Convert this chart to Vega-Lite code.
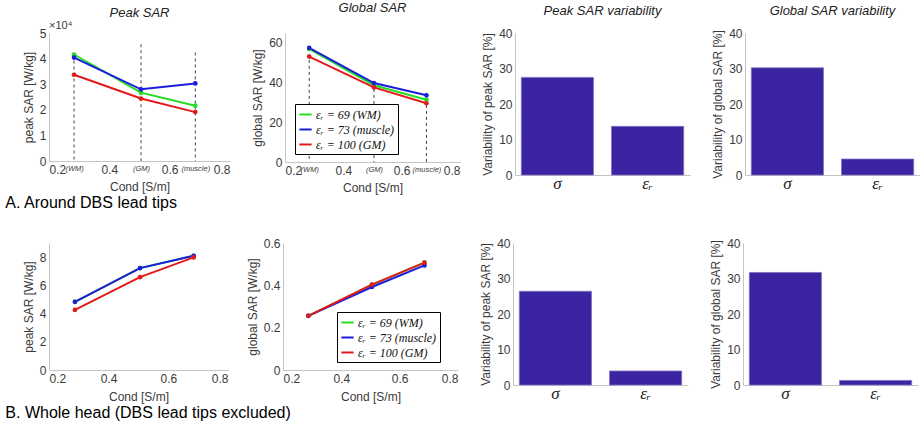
{
  "$schema": "https://vega.github.io/schema/vega-lite/v6.json",
  "background": "white",
  "padding": {"left": 5, "top": 2, "right": 0, "bottom": 0},
  "config": {
    "font": "Liberation Sans",
    "view": {"stroke": null},
    "axis": {"domainColor": "#c4c4c4", "ticks": false, "grid": false, "labelColor": "#3a3a3a", "titleColor": "#3a3a3a", "labelFontSize": 12, "titleFontSize": 12, "titleFontWeight": "normal", "labelPadding": 3, "titlePadding": 4},
    "title": {"fontStyle": "italic", "fontWeight": "normal", "fontSize": 13, "color": "#222222", "offset": 12},
    "legend": {"title": null}
  },
  "resolve": {"scale": {"color": "independent"}, "legend": {"color": "independent"}},
  "spacing": 26,
  "vconcat": [
    {
      "title": {"text": "A. Around DBS lead tips", "orient": "bottom", "anchor": "start", "fontSize": 16, "fontStyle": "normal", "color": "#000000", "offset": 2, "dx": -17},
      "bounds": "flush",
      "spacing": 55,
      "resolve": {"scale": {"color": "independent"}, "legend": {"color": "independent"}},
      "hconcat": [
        {
          "width": 181, "height": 128,
          "title": {"text": "Peak SAR", "offset": 0},
          "encoding": {
            "x": {"field": "cond", "type": "quantitative", "title": "Cond [S/m]",
              "scale": {"domain": [0.2, 0.8], "nice": false, "zero": false},
              "axis": {"values": [0.2, 0.283, 0.4, 0.505, 0.6, 0.685, 0.8], "labelOverlap": false, "titlePadding": 6,
                "labelExpr": "datum.value == 0.283 ? '(WM)' : datum.value == 0.505 ? '(GM)' : datum.value == 0.685 ? '(muscle)' : format(datum.value, '.1f')",
                "labelFontSize": {"condition": {"test": "datum.value == 0.283 || datum.value == 0.505 || datum.value == 0.685", "value": 7.5}, "value": 12},
                "labelFontStyle": {"condition": {"test": "datum.value == 0.283 || datum.value == 0.505 || datum.value == 0.685", "value": "italic"}, "value": "normal"}}},
            "y": {"field": "sar", "type": "quantitative", "title": "peak SAR [W/kg]",
              "scale": {"domain": [0, 50000], "nice": false},
              "axis": {"values": [0, 10000, 20000, 30000, 40000, 50000], "labelExpr": "datum.value / 10000"}}
          },
          "layer": [
            {
              "data": {"values": [
                {"cond": 0.283, "sar": 41600},
                {"cond": 0.505, "sar": 45600},
                {"cond": 0.685, "sar": 42400}
              ]},
              "mark": {"type": "rule", "strokeDash": [3, 3], "color": "#444444", "strokeWidth": 1},
              "encoding": {"y2": {"datum": 0}}
            },
            {
              "data": {"values": [
                {"cond": 0.283, "eps": "εᵣ = 69 (WM)", "sar": 41600},
                {"cond": 0.505, "eps": "εᵣ = 69 (WM)", "sar": 26700},
                {"cond": 0.685, "eps": "εᵣ = 69 (WM)", "sar": 21600},
                {"cond": 0.283, "eps": "εᵣ = 73 (muscle)", "sar": 40400},
                {"cond": 0.505, "eps": "εᵣ = 73 (muscle)", "sar": 28000},
                {"cond": 0.685, "eps": "εᵣ = 73 (muscle)", "sar": 30300},
                {"cond": 0.283, "eps": "εᵣ = 100 (GM)", "sar": 33700},
                {"cond": 0.505, "eps": "εᵣ = 100 (GM)", "sar": 24400},
                {"cond": 0.685, "eps": "εᵣ = 100 (GM)", "sar": 19100}
              ]},
              "mark": {"type": "line", "strokeWidth": 2, "point": {"filled": true, "size": 22}},
              "encoding": {
                "color": {"field": "eps", "type": "nominal", "sort": null,
                  "scale": {"domain": ["εᵣ = 69 (WM)", "εᵣ = 73 (muscle)", "εᵣ = 100 (GM)"], "range": ["#22dd22", "#1c1cdc", "#e41a1a"]},
                  "legend": null}
              }
            },
            {
              "data": {"values": [{"cond": 0.2, "sar": 50000, "label": "×10⁴"}]},
              "mark": {"type": "text", "align": "left", "baseline": "bottom", "dy": -2, "fontSize": 11, "color": "#3a3a3a"},
              "encoding": {"text": {"field": "label"}}
            }
          ]
        },
        {
          "width": 175, "height": 129,
          "title": {"text": "Global SAR", "offset": 18},
          "encoding": {
            "x": {"field": "cond", "type": "quantitative", "title": "Cond [S/m]",
              "scale": {"domain": [0.2, 0.8], "nice": false, "zero": false},
              "axis": {"values": [0.2, 0.283, 0.4, 0.505, 0.6, 0.685, 0.8], "labelOverlap": false, "titlePadding": 6,
                "labelExpr": "datum.value == 0.283 ? '(WM)' : datum.value == 0.505 ? '(GM)' : datum.value == 0.685 ? '(muscle)' : format(datum.value, '.1f')",
                "labelFontSize": {"condition": {"test": "datum.value == 0.283 || datum.value == 0.505 || datum.value == 0.685", "value": 7.5}, "value": 12},
                "labelFontStyle": {"condition": {"test": "datum.value == 0.283 || datum.value == 0.505 || datum.value == 0.685", "value": "italic"}, "value": "normal"}}},
            "y": {"field": "sar", "type": "quantitative", "title": "global SAR [W/kg]",
              "scale": {"domain": [0, 65], "nice": false},
              "axis": {"values": [0, 20, 40, 60]}}
          },
          "layer": [
            {
              "data": {"values": [
                {"cond": 0.283, "sar": 57.5},
                {"cond": 0.505, "sar": 39.8},
                {"cond": 0.685, "sar": 34.8}
              ]},
              "mark": {"type": "rule", "strokeDash": [3, 3], "color": "#444444", "strokeWidth": 1},
              "encoding": {"y2": {"datum": 0}}
            },
            {
              "data": {"values": [
                {"cond": 0.283, "eps": "εᵣ = 69 (WM)", "sar": 57.0},
                {"cond": 0.505, "eps": "εᵣ = 69 (WM)", "sar": 38.7},
                {"cond": 0.685, "eps": "εᵣ = 69 (WM)", "sar": 31.4},
                {"cond": 0.283, "eps": "εᵣ = 73 (muscle)", "sar": 57.5},
                {"cond": 0.505, "eps": "εᵣ = 73 (muscle)", "sar": 39.8},
                {"cond": 0.685, "eps": "εᵣ = 73 (muscle)", "sar": 33.6},
                {"cond": 0.283, "eps": "εᵣ = 100 (GM)", "sar": 53.1},
                {"cond": 0.505, "eps": "εᵣ = 100 (GM)", "sar": 37.6},
                {"cond": 0.685, "eps": "εᵣ = 100 (GM)", "sar": 29.6}
              ]},
              "mark": {"type": "line", "strokeWidth": 2, "point": {"filled": true, "size": 22}},
              "encoding": {
                "color": {"field": "eps", "type": "nominal", "sort": null,
                  "scale": {"domain": ["εᵣ = 69 (WM)", "εᵣ = 73 (muscle)", "εᵣ = 100 (GM)"], "range": ["#22dd22", "#1c1cdc", "#e41a1a"]},
                  "legend": {"orient": "none", "legendX": 10, "legendY": 71, "strokeColor": "#000000", "fillColor": "#ffffff", "padding": 3, "symbolType": "stroke", "symbolStrokeWidth": 2, "symbolSize": 150, "labelFont": "Liberation Serif", "labelFontStyle": "italic", "labelFontSize": 12, "labelColor": "#111111", "rowPadding": 1, "labelOffset": 3}}
              }
            }
          ]
        },
        {
          "width": 175, "height": 142,
          "title": {"text": "Peak SAR variability", "offset": 9},
          "data": {"values": [{"param": "σ", "variability": 27.5}, {"param": "εᵣ", "variability": 13.7}]},
          "mark": {"type": "bar", "color": "#3b23a2", "stroke": "#7d72c4", "strokeWidth": 0.8},
          "encoding": {
            "x": {"field": "param", "type": "nominal", "sort": null, "scale": {"paddingInner": 0.2, "paddingOuter": 0.07},
              "axis": {"title": null, "labelAngle": 0, "labelPadding": 0, "labelFont": "Liberation Serif", "labelFontStyle": "italic", "labelFontSize": 17, "labelColor": "#222222"}},
            "y": {"field": "variability", "type": "quantitative", "title": "Variability of peak SAR [%]",
              "scale": {"domain": [0, 40], "nice": false}, "axis": {"values": [0, 10, 20, 30, 40]}}
          }
        },
        {
          "width": 175, "height": 142,
          "title": {"text": "Global SAR variability", "offset": 9},
          "data": {"values": [{"param": "σ", "variability": 30.2}, {"param": "εᵣ", "variability": 4.5}]},
          "mark": {"type": "bar", "color": "#3b23a2", "stroke": "#7d72c4", "strokeWidth": 0.8},
          "encoding": {
            "x": {"field": "param", "type": "nominal", "sort": null, "scale": {"paddingInner": 0.2, "paddingOuter": 0.07},
              "axis": {"title": null, "labelAngle": 0, "labelPadding": 0, "labelFont": "Liberation Serif", "labelFontStyle": "italic", "labelFontSize": 17, "labelColor": "#222222"}},
            "y": {"field": "variability", "type": "quantitative", "title": "Variability of global SAR [%]",
              "scale": {"domain": [0, 40], "nice": false}, "axis": {"values": [0, 10, 20, 30, 40]}}
          }
        }
      ]
    },
    {
      "title": {"text": "B. Whole head (DBS lead tips excluded)", "orient": "bottom", "anchor": "start", "fontSize": 16, "fontStyle": "normal", "color": "#000000", "offset": 3, "dx": -17},
      "bounds": "flush",
      "spacing": 55,
      "resolve": {"scale": {"color": "independent"}, "legend": {"color": "independent"}},
      "hconcat": [
        {
          "width": 179, "height": 127,
          "data": {"values": [
            {"cond": 0.287, "eps": "εᵣ = 69 (WM)", "sar": 4.83},
            {"cond": 0.505, "eps": "εᵣ = 69 (WM)", "sar": 7.22},
            {"cond": 0.685, "eps": "εᵣ = 69 (WM)", "sar": 8.09},
            {"cond": 0.287, "eps": "εᵣ = 73 (muscle)", "sar": 4.83},
            {"cond": 0.505, "eps": "εᵣ = 73 (muscle)", "sar": 7.22},
            {"cond": 0.685, "eps": "εᵣ = 73 (muscle)", "sar": 8.09},
            {"cond": 0.287, "eps": "εᵣ = 100 (GM)", "sar": 4.26},
            {"cond": 0.505, "eps": "εᵣ = 100 (GM)", "sar": 6.58},
            {"cond": 0.685, "eps": "εᵣ = 100 (GM)", "sar": 7.98}
          ]},
          "mark": {"type": "line", "strokeWidth": 2, "point": {"filled": true, "size": 22}},
          "encoding": {
            "x": {"field": "cond", "type": "quantitative", "title": "Cond [S/m]",
              "scale": {"domain": [0.2, 0.8], "nice": false, "zero": false},
              "axis": {"values": [0.2, 0.4, 0.6, 0.8], "format": ".1f", "titlePadding": 7}},
            "y": {"field": "sar", "type": "quantitative", "title": "peak SAR [W/kg]",
              "scale": {"domain": [0, 9], "nice": false},
              "axis": {"values": [0, 2, 4, 6, 8]}},
            "color": {"field": "eps", "type": "nominal", "sort": null,
              "scale": {"domain": ["εᵣ = 69 (WM)", "εᵣ = 73 (muscle)", "εᵣ = 100 (GM)"], "range": ["#22dd22", "#1c1cdc", "#e41a1a"]},
              "legend": null}
          }
        },
        {
          "width": 175, "height": 127,
          "data": {"values": [
            {"cond": 0.287, "eps": "εᵣ = 69 (WM)", "sar": 0.256},
            {"cond": 0.505, "eps": "εᵣ = 69 (WM)", "sar": 0.403},
            {"cond": 0.685, "eps": "εᵣ = 69 (WM)", "sar": 0.507},
            {"cond": 0.287, "eps": "εᵣ = 73 (muscle)", "sar": 0.256},
            {"cond": 0.505, "eps": "εᵣ = 73 (muscle)", "sar": 0.392},
            {"cond": 0.685, "eps": "εᵣ = 73 (muscle)", "sar": 0.494},
            {"cond": 0.287, "eps": "εᵣ = 100 (GM)", "sar": 0.256},
            {"cond": 0.505, "eps": "εᵣ = 100 (GM)", "sar": 0.403},
            {"cond": 0.685, "eps": "εᵣ = 100 (GM)", "sar": 0.507}
          ]},
          "mark": {"type": "line", "strokeWidth": 2, "point": {"filled": true, "size": 22}},
          "encoding": {
            "x": {"field": "cond", "type": "quantitative", "title": "Cond [S/m]",
              "scale": {"domain": [0.2, 0.8], "nice": false, "zero": false},
              "axis": {"values": [0.2, 0.4, 0.6, 0.8], "format": ".1f", "titlePadding": 7}},
            "y": {"field": "sar", "type": "quantitative", "title": "global SAR [W/kg]",
              "scale": {"domain": [0, 0.6], "nice": false},
              "axis": {"values": [0, 0.2, 0.4, 0.6], "format": "~g"}},
            "color": {"field": "eps", "type": "nominal", "sort": null,
              "scale": {"domain": ["εᵣ = 69 (WM)", "εᵣ = 73 (muscle)", "εᵣ = 100 (GM)"], "range": ["#22dd22", "#1c1cdc", "#e41a1a"]},
              "legend": {"orient": "none", "legendX": 54, "legendY": 69, "strokeColor": "#000000", "fillColor": "#ffffff", "padding": 3, "symbolType": "stroke", "symbolStrokeWidth": 2, "symbolSize": 150, "labelFont": "Liberation Serif", "labelFontStyle": "italic", "labelFontSize": 12, "labelColor": "#111111", "rowPadding": 1, "labelOffset": 3}}
          }
        },
        {
          "width": 175, "height": 142,
          "data": {"values": [{"param": "σ", "variability": 26.4}, {"param": "εᵣ", "variability": 3.95}]},
          "mark": {"type": "bar", "color": "#3b23a2", "stroke": "#7d72c4", "strokeWidth": 0.8},
          "encoding": {
            "x": {"field": "param", "type": "nominal", "sort": null, "scale": {"paddingInner": 0.2, "paddingOuter": 0.07},
              "axis": {"title": null, "labelAngle": 0, "labelPadding": 0, "labelFont": "Liberation Serif", "labelFontStyle": "italic", "labelFontSize": 17, "labelColor": "#222222"}},
            "y": {"field": "variability", "type": "quantitative", "title": "Variability of peak SAR [%]",
              "scale": {"domain": [0, 40], "nice": false}, "axis": {"values": [0, 10, 20, 30, 40]}}
          }
        },
        {
          "width": 175, "height": 142,
          "data": {"values": [{"param": "σ", "variability": 31.7}, {"param": "εᵣ", "variability": 1.3}]},
          "mark": {"type": "bar", "color": "#3b23a2", "stroke": "#7d72c4", "strokeWidth": 0.8},
          "encoding": {
            "x": {"field": "param", "type": "nominal", "sort": null, "scale": {"paddingInner": 0.2, "paddingOuter": 0.07},
              "axis": {"title": null, "labelAngle": 0, "labelPadding": 0, "labelFont": "Liberation Serif", "labelFontStyle": "italic", "labelFontSize": 17, "labelColor": "#222222"}},
            "y": {"field": "variability", "type": "quantitative", "title": "Variability of global SAR [%]",
              "scale": {"domain": [0, 40], "nice": false}, "axis": {"values": [0, 10, 20, 30, 40]}}
          }
        }
      ]
    }
  ]
}
